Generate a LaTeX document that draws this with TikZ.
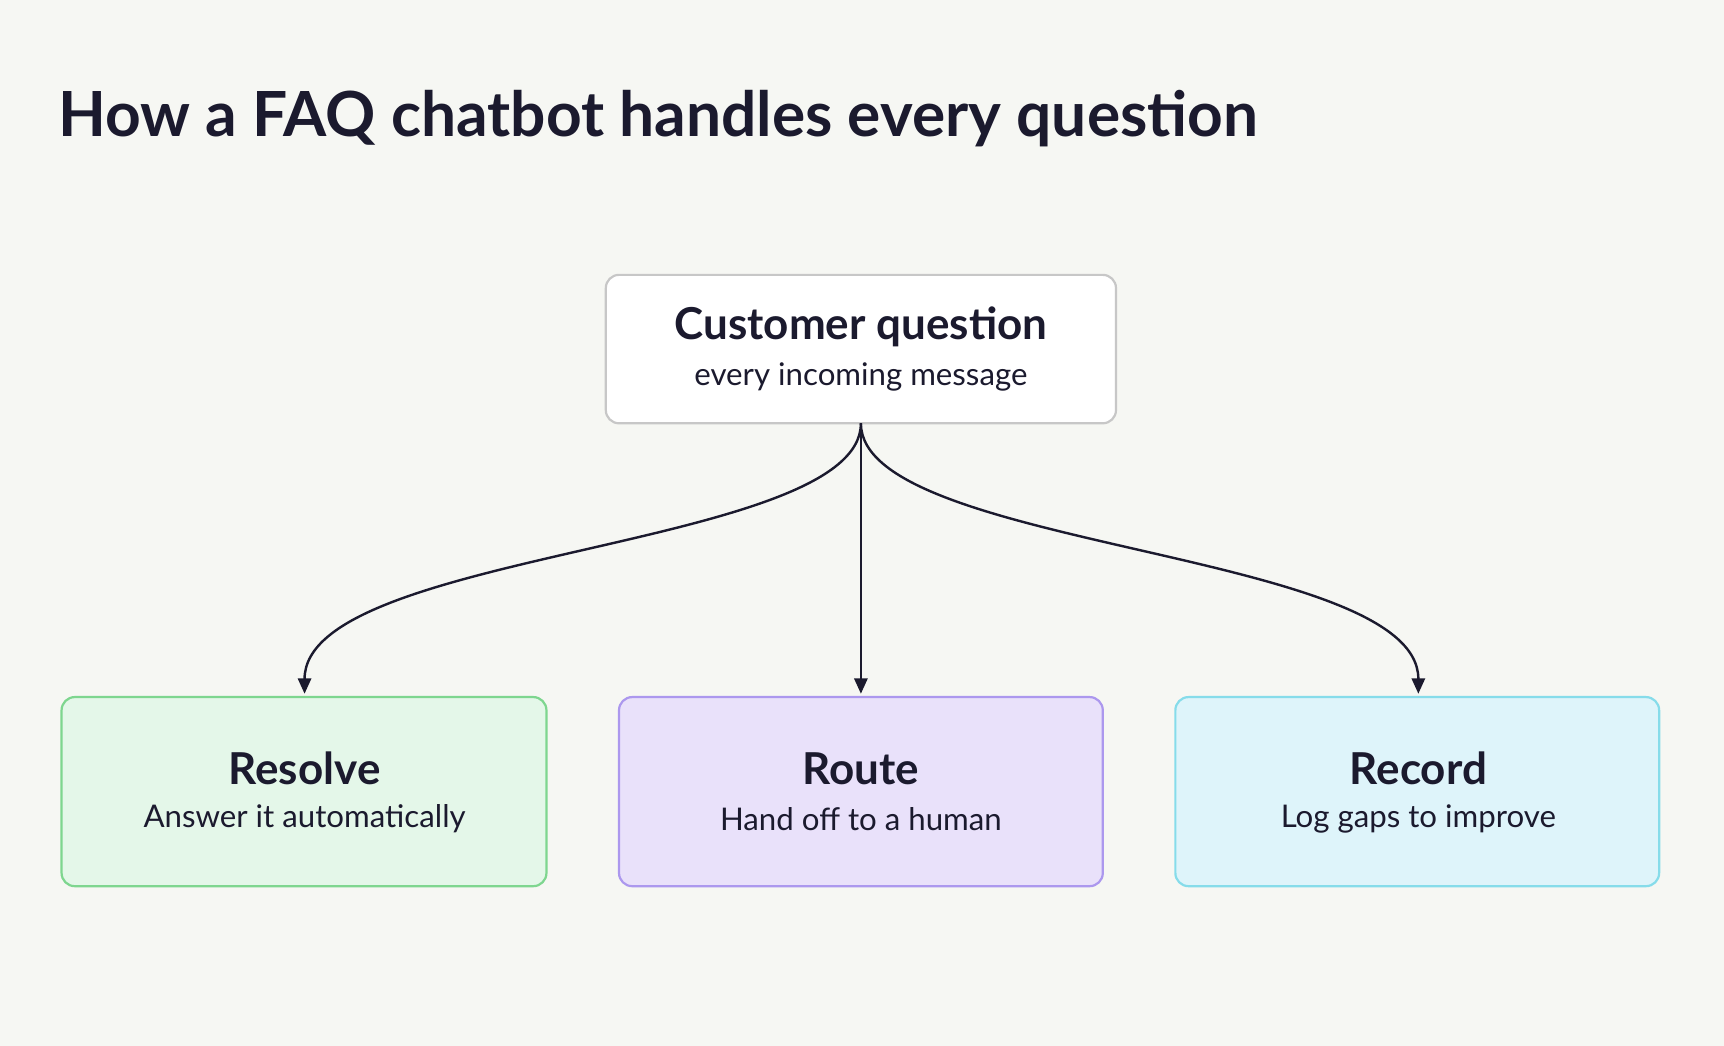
\documentclass[tikz,border=0pt]{standalone}
\usepackage{fontspec}
\setmainfont{Lato}
\usetikzlibrary{arrows.meta}
\definecolor{bg}{HTML}{F6F7F3}
\definecolor{ink}{HTML}{1B1A2E}
\definecolor{gfill}{HTML}{E4F7E9}\definecolor{gline}{HTML}{7ED68F}
\definecolor{pfill}{HTML}{E9E1FA}\definecolor{pline}{HTML}{AC98EE}
\definecolor{cfill}{HTML}{DEF4FA}\definecolor{cline}{HTML}{86DCEA}
\tikzset{
 box/.style={draw, rounded corners=6pt, line width=1pt, inner sep=0pt},
 head/.style={font=\bfseries\fontsize{20}{24}\selectfont, text=ink},
 sub/.style={font=\fontsize{14.2}{17}\selectfont, text=ink},
 conn/.style={draw=ink, line width=1.1pt, -{Triangle[length=7pt,width=6pt]}}
}
\begin{document}
\begin{tikzpicture}[x=0.5pt,y=-0.5pt]
\fill[bg] (0,0) rectangle (1568,951);
\useasboundingbox (0,0) rectangle (1568,951);
\node[anchor=west, font=\bfseries\fontsize{28.3}{34}\selectfont, text=ink] (title) at (46,108) {How a FAQ chatbot handles every question};
\draw[box, draw=black!22, fill=white] (551,250) rectangle (1015,385);
\coordinate (top) at (783,385);
\node[head] (h0) at (783,297) {Customer question};
\node[sub] (s0) at (783,343) {every incoming message};
\draw[box, draw=gline, fill=gfill] (56,634) rectangle (497,806);
\draw[box, draw=pline, fill=pfill] (563,634) rectangle (1003,806);
\draw[box, draw=cline, fill=cfill] (1069,634) rectangle (1509,806);
\node[head] at (277,699) {Resolve};
\node[sub] at (277,745) {Answer it automatically};
\node[head] at (783,699) {Route};
\node[sub] at (783,745) {Hand off to a human};
\node[head] at (1290,699) {Record};
\node[sub] at (1290,745) {Log gaps to improve};
\coordinate (a) at (277,631);
\coordinate (b) at (783,631);
\coordinate (c) at (1290,631);
\draw[conn] (top) .. controls (783,500) and (277,500) .. (a);
\draw[conn] (top) -- (b);
\draw[conn] (top) .. controls (783,500) and (1290,500) .. (c);
\end{tikzpicture}
\end{document}
